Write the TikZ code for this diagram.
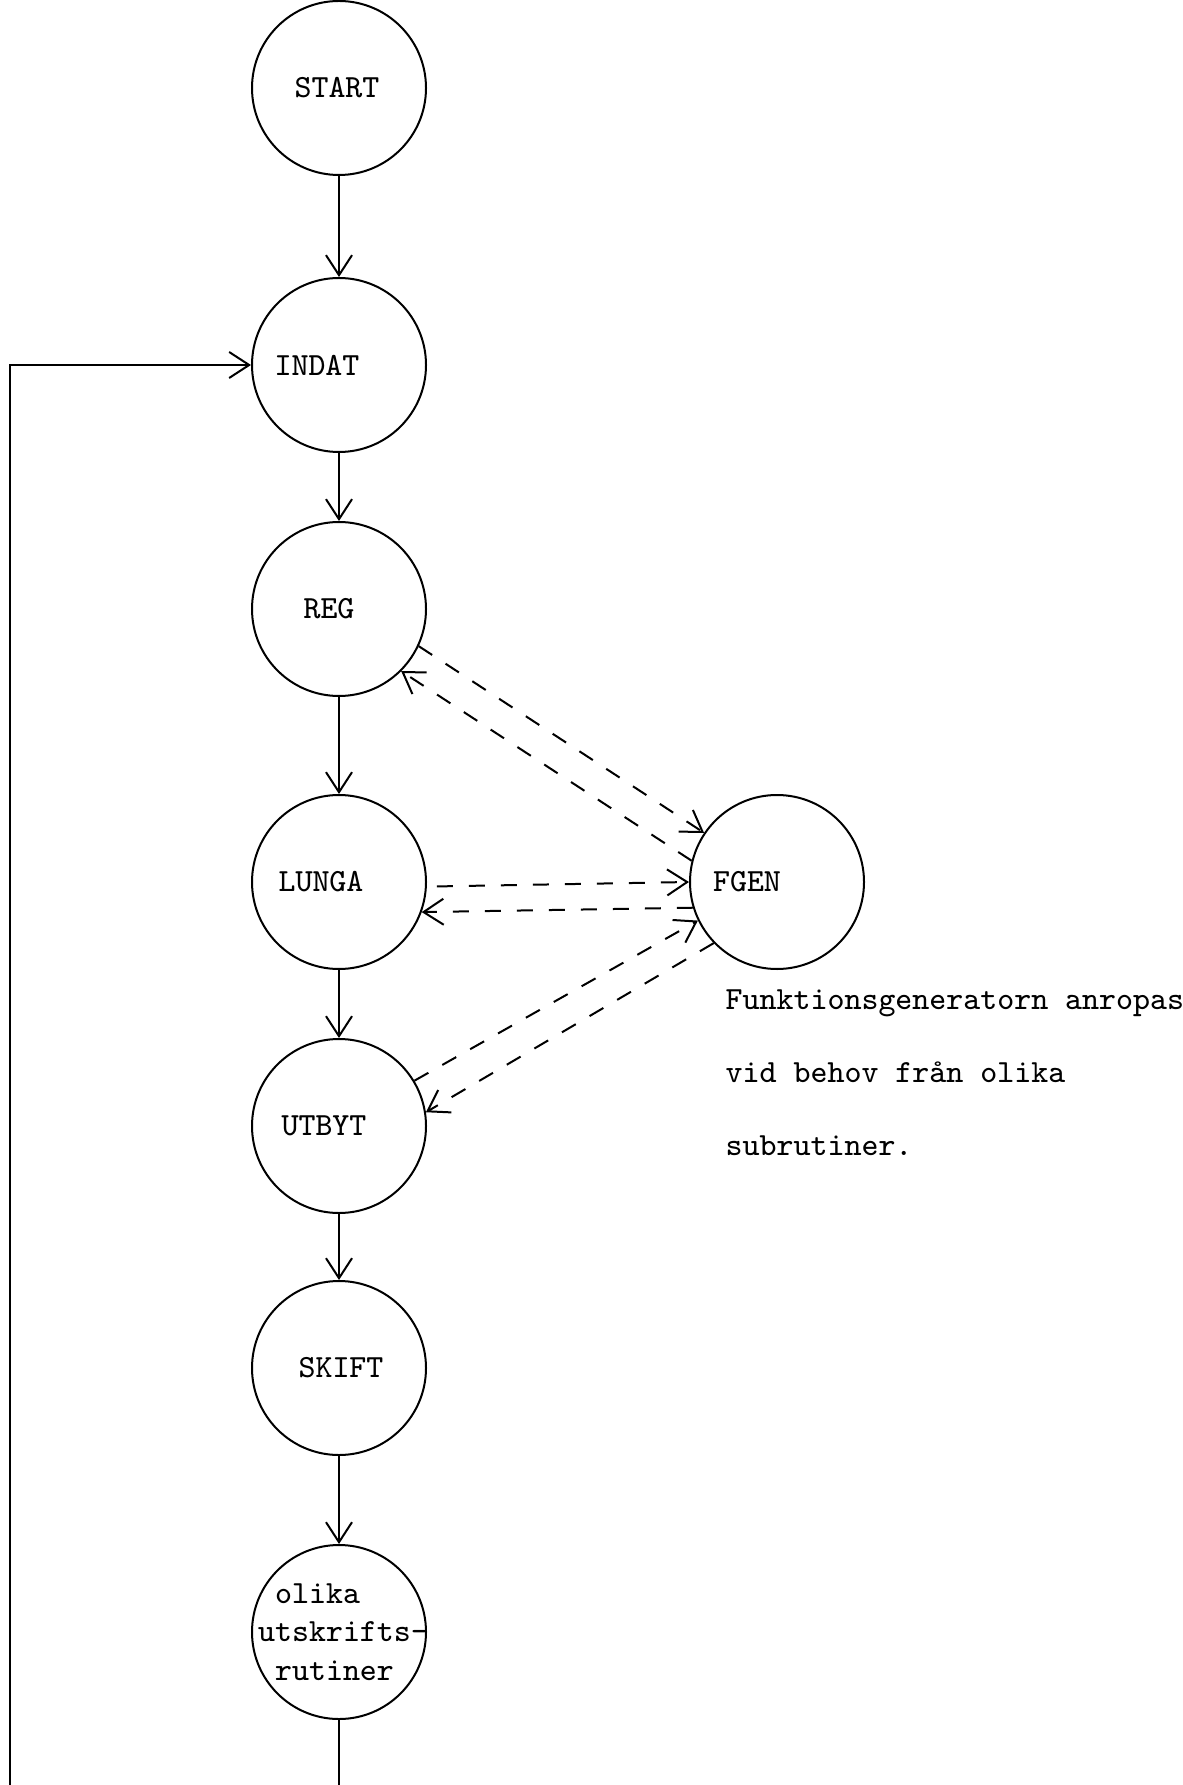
\documentclass[tikz,border=0pt]{standalone}
\usepackage{fontspec}
\usetikzlibrary{arrows.meta}
\usetikzlibrary{positioning}

\begin{document}
\begin{tikzpicture}[
				node distance=8mm,
				line width=0.2mm,
				font=\ttfamily\fontsize{9.2}{11}\selectfont,
				proc/.style={circle, draw, minimum size=17.4mm, inner sep=0pt},
				arrow/.style={-{Straight Barb[length=2mm, width=2.6mm]}},
				call/.style={arrow, dash pattern=on 1.6mm off 1.6mm},
			]
				\useasboundingbox (0,0) rectangle (11.82,-17.85);
				\node (start) [proc, label={[xshift=-0.2mm]center:START}] at (3.39,-0.88) {};
				\node (indat) [proc, below=10.1mm of start, label={[xshift=-2.2mm]center:INDAT}] {};
				\node (reg) [proc, below=6.8mm of indat, label={[xshift=-1mm]center:REG}] {};
				\node (lunga) [proc, below=9.7mm of reg, label={[xshift=-1.8mm]center:LUNGA}] {};
				\node (fgen) [proc, right=26.2mm of lunga, label={[xshift=-3mm]center:FGEN}] {};
				\node (utbyt) [proc, below=6.8mm of lunga, label={[xshift=-1.5mm]center:UTBYT}] {};
				\node (skift) [proc, below=6.6mm of utbyt, label={[xshift=0.2mm]center:SKIFT}] {};
				\node (print) [proc, below=8.8mm of skift, label={[align=left, xshift=0.4mm]center:{\hphantom{u}olika\\utskrifts-\\\hphantom{u}rutiner}}] {};
				\node (note) [anchor=west, align=left, font=\ttfamily\fontsize{9.2}{20.8}\selectfont] at (7.13,-10.73)
					{Funktionsgeneratorn anropas\\vid behov från olika\\subrutiner.};
				\coordinate (back) at (0.10,-18.3);
				
				\draw[arrow] (start) -- (indat);
				\draw[arrow] (indat) -- (reg);
				\draw[arrow] (reg) -- (lunga);
				\draw[arrow] (lunga) -- (utbyt);
				\draw[arrow] (utbyt) -- (skift);
				\draw[arrow] (skift) -- (print);
				\draw[arrow] (print.south) |- (back) |- (indat.west);
				
				\draw[call] (reg.-25) -- (fgen.146);
				\draw[call] (fgen.166) -- (reg.-45);
				\draw[call, shorten <=1mm] (lunga.-3) -- (fgen.180);
				\draw[call] (fgen.197) -- (lunga.-20);
				\draw[call] (utbyt.31) -- (fgen.206);
				\draw[call] (fgen.224) -- (utbyt.9);
			\end{tikzpicture}
\end{document}
